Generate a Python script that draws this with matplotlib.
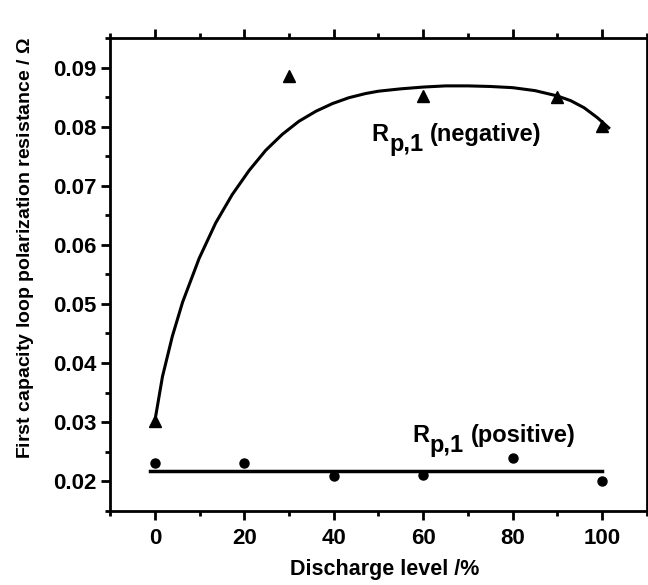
import matplotlib
matplotlib.use('Agg')
import matplotlib.pyplot as plt
from matplotlib.ticker import MultipleLocator

plt.rcParams['font.family'] = ['Liberation Sans', 'DejaVu Sans']
plt.rcParams['font.weight'] = 'bold'
plt.rcParams['mathtext.fontset'] = 'custom'
plt.rcParams['mathtext.rm'] = 'Liberation Sans'

# measured points
neg_x = [0, 30, 60, 90, 100]
neg_y = [0.0302, 0.0885, 0.0852, 0.0851, 0.0801]
pos_x = [0, 20, 40, 60, 80, 100]
pos_y = [0.0230, 0.0230, 0.0209, 0.0210, 0.0240, 0.0200]

# fitted curve (negative)
fit_x = [0, 1.7, 3.9, 6.2, 9.9, 13.6, 17.3, 21.1, 24.8, 28.5, 32.2, 36.0, 39.7, 43.4, 47.1,
         50, 55, 60, 65, 70, 75, 80, 85, 90, 93, 96, 99, 101.5]
fit_y = [0.0302, 0.0377, 0.0445, 0.0503, 0.0577, 0.0637, 0.0685, 0.0726, 0.0760, 0.0787, 0.0809,
         0.0826, 0.0839, 0.0849, 0.0856, 0.0860, 0.0864, 0.0867, 0.0869, 0.0869, 0.0868, 0.0866,
         0.0861, 0.0852, 0.0844, 0.0832, 0.0815, 0.0798]

# fitted line (positive)
pos_fit_x = [-1, 100]
pos_fit_y = [0.0218, 0.0218]

fig = plt.figure(figsize=(6.48, 5.85), dpi=100)
ax = fig.add_axes([0.170, 0.127, 0.828, 0.808])

ax.plot(fit_x, fit_y, color='black', lw=2.2)
ax.plot(pos_fit_x, pos_fit_y, color='black', lw=2.5)
ax.plot(neg_x, neg_y, '^', color='black', ms=8, ls='none')
ax.plot(pos_x, pos_y, 'o', color='black', ms=6.5, ls='none')


def rp_label(x, y, word):
    # R, same-size lowered subscript, then the word
    kw = dict(fontsize=17, fontweight='bold', textcoords='offset points', va='baseline', ha='left')
    ax.annotate('R', (x, y), xytext=(0, 0), **kw)
    ax.annotate('p,1', (x, y), xytext=(12.5, -7), **kw)
    ax.annotate(word, (x, y), xytext=(42, 0), **kw)


rp_label(48.5, 0.0776, '(negative)')
rp_label(57.6, 0.0266, '(positive)')

ax.set_xlim(-10, 110)
ax.set_ylim(0.015, 0.095)
ax.xaxis.set_major_locator(MultipleLocator(20))
ax.xaxis.set_minor_locator(MultipleLocator(10))
ax.yaxis.set_minor_locator(MultipleLocator(0.005))
ax.set_yticks([0.02, 0.03, 0.04, 0.05, 0.06, 0.07, 0.08, 0.09])

for s in ax.spines.values():
    s.set_linewidth(2)
ax.tick_params(which='both', direction='out', width=2, top=True, right=False, labelsize=16)
ax.tick_params(which='major', length=6.5)
ax.tick_params(which='minor', length=3.8)
ax.tick_params(axis='x', which='major', pad=6)

ax.set_xlabel('Discharge level /%', fontsize=15.5, fontweight='bold')
ax.xaxis.set_label_coords(0.511, -0.103)
ax.xaxis.label.set_va('top')
ax.set_ylabel(r'First capacity loop polarization resistance / $\Omega$', fontsize=14, fontweight='bold')
ax.yaxis.set_label_coords(-0.138, 0.555)

plt.savefig('out.png')
